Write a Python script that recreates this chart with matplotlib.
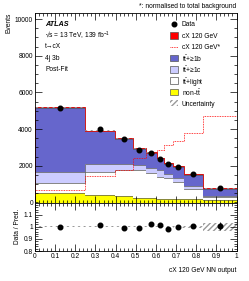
import numpy as np
import matplotlib
matplotlib.use("Agg")
import matplotlib.pyplot as plt
from matplotlib.patches import Rectangle
from matplotlib.lines import Line2D
from matplotlib.ticker import MultipleLocator, FixedLocator

plt.rcParams['font.family'] = ['Liberation Sans', 'DejaVu Sans']
plt.rcParams['mathtext.fontset'] = 'custom'
plt.rcParams['mathtext.rm'] = 'Liberation Sans'
plt.rcParams['mathtext.it'] = 'Liberation Sans:italic'
plt.rcParams['font.size'] = 4.8

# binning of the NN output
edges = [0, 0.25, 0.397, 0.486, 0.55, 0.604, 0.639, 0.684, 0.738, 0.832, 1.0]

# post-fit yields per bin
nontt = [545, 436, 354, 272, 245, 218, 218, 191, 191, 163]
tt_light = [534, 1242, 1417, 1499, 1346, 1188, 1101, 943, 561, 120]
tt_1c = [599, 404, 327, 273, 273, 365, 218, 185, 147, 88]
tt_1b = [3500, 1811, 1376, 880, 837, 635, 559, 630, 593, 339]
signal = [10, 20, 25, 30, 35, 35, 40, 40, 45, 55]
signal_norm = [680, 1460, 1787, 2400, 2680, 2860, 3133, 3351, 3804, 4714]

data = [5166, 3989, 3444, 2861, 2681, 2371, 2098, 1918, 1537, 774]
ratio = [1.0, 1.014, 0.987, 0.987, 1.02, 1.014, 0.978, 0.995, 1.006, 1.006]
ratio_err = [0.004, 0.005, 0.005, 0.005, 0.006, 0.006, 0.006, 0.007, 0.008, 0.035]
unc_rel = [0.004, 0.004, 0.004, 0.004, 0.004, 0.004, 0.004, 0.004, 0.004, 0.03]

labels = ['Data', 'cX 120 GeV', 'cX 120 GeV*', r'$\mathrm{t\bar{t}}$+≥1b',
          r'$\mathrm{t\bar{t}}$+≥1c', r'$\mathrm{t\bar{t}}$+light',
          r'non-$\mathrm{t\bar{t}}$', 'Uncertainty']
info_lines = ['√s = 13 TeV, 139 fb$^{-1}$', 't→cX', '4j 3b', 'Post-Fit']

edges = np.array(edges)
centers = 0.5 * (edges[1:] + edges[:-1])

W, H = 249, 281
fig = plt.figure(figsize=(W / 100, H / 100), dpi=100)
ax = fig.add_axes([35 / W, 1 - 202.5 / H, 201.5 / W, 189.5 / H])
rax = fig.add_axes([35 / W, 1 - 251 / H, 201.5 / W, 48.5 / H], sharex=ax)


def fx(px):
    return px / W


def fy(py):
    return 1 - py / H


# stacked histogram
layers = [
    (nontt, '#ffff00'),
    (tt_light, '#ffffff'),
    (tt_1c, '#ccccff'),
    (tt_1b, '#6666cc'),
    (signal, '#ff0000'),
]
bottom = np.zeros(len(nontt))
for vals, col in layers:
    top = bottom + np.array(vals)
    ax.stairs(top, edges, baseline=bottom, fill=True, color=col, lw=0)
    ax.stairs(top, edges, baseline=None, color='#555555', lw=0.5)
    bottom = top
total = bottom
ax.stairs(total, edges, color='#ff0000', lw=0.5)

# uncertainty band
unc = total * np.array(unc_rel)
ax.stairs(total + unc, edges, baseline=total - unc, fill=True, facecolor='none',
          edgecolor='#999999', hatch='//////', lw=0)

# normalised signal shape
ax.stairs(signal_norm, edges, color='#ff0000', lw=0.6, ls=(0, (1, 1)))

# data
ax.errorbar(centers, data, yerr=np.sqrt(data), fmt='o', color='black', ms=3.3,
            elinewidth=0.6, capsize=0)

ax.set_xlim(0, 1)
ax.set_ylim(0, 10330)
ax.yaxis.set_major_locator(MultipleLocator(2000))
ax.yaxis.set_minor_locator(MultipleLocator(500))
ax.xaxis.set_major_locator(MultipleLocator(0.1))
ax.xaxis.set_minor_locator(MultipleLocator(0.02))
ax.tick_params(which='both', direction='in', top=True, right=True, labelbottom=False,
               width=0.5, pad=1.5)
ax.tick_params(which='major', length=5)
ax.tick_params(which='minor', length=2.5)
ax.set_ylabel('Events', loc='top', labelpad=2)

# ratio panel
rax.stairs(1 + np.array(ratio_err), edges, baseline=1 - np.array(ratio_err), fill=True,
           facecolor='none', edgecolor='#999999', hatch='//////', lw=0)
rax.errorbar(centers, ratio, yerr=[0, 0, 0, 0, 0, 0, 0, 0, 0, 0.035], fmt='o',
             color='black', ms=3.3, elinewidth=0.6, capsize=0)
rax.set_ylim(0.8, 1.2)
rax.yaxis.set_major_locator(FixedLocator([0.8, 0.9, 1.0, 1.1]))
rax.set_yticklabels(['0.8', '0.9', '1', '1.1'])
rax.yaxis.set_minor_locator(MultipleLocator(0.02))
rax.tick_params(which='both', direction='in', top=True, right=True, width=0.5, pad=1.5)
rax.tick_params(which='major', length=5)
rax.tick_params(which='minor', length=2.5)
rax.set_xticks(np.arange(0, 1.01, 0.1))
rax.set_xticklabels(['0', '0.1', '0.2', '0.3', '0.4', '0.5', '0.6', '0.7', '0.8', '0.9', '1'])
rax.set_ylabel('Data / Pred.', labelpad=2)
rax.set_xlabel('cX 120 GeV NN output', loc='right', labelpad=5)

for a in (ax, rax):
    for s in a.spines.values():
        s.set_linewidth(0.6)

# labels
fig.text(fx(45), fy(23.5), 'ATLAS', fontsize=5.2, fontweight='bold', fontstyle='italic',
         va='center_baseline')
for i, line in enumerate(info_lines):
    fig.text(fx(45), fy(34.5 + i * 11.3), line, va='center_baseline')
fig.text(fx(236), fy(7), '*: normalised to total background', ha='right', va='center')

# legend drawn row by row so spacing stays even
box_styles = [
    None,
    dict(facecolor='#ff0000', edgecolor='#555555'),
    None,
    dict(facecolor='#6666cc', edgecolor='#555555'),
    dict(facecolor='#ccccff', edgecolor='#555555'),
    dict(facecolor='#ffffff', edgecolor='#555555'),
    dict(facecolor='#ffff00', edgecolor='#555555'),
    dict(facecolor='none', edgecolor='#999999', hatch='//////', lw=0),
]
for i, lab in enumerate(labels):
    yc = 24 + i * 11.3
    if i == 0:
        fig.add_artist(Line2D([fx(174)], [fy(yc)], marker='o', color='black', ms=3.3))
    elif i == 2:
        fig.add_artist(Line2D([fx(170), fx(178)], [fy(yc), fy(yc)], color='#ff0000',
                              lw=0.6, ls=(0, (1, 1))))
    else:
        st = dict(lw=0.5)
        st.update(box_styles[i])
        fig.add_artist(Rectangle((fx(170), fy(yc + 3.3)), fx(8), 6.6 / H, **st))
    fig.text(fx(181.5), fy(yc), lab, va='center_baseline', ha='left')

fig.savefig('out.png', dpi=100)
